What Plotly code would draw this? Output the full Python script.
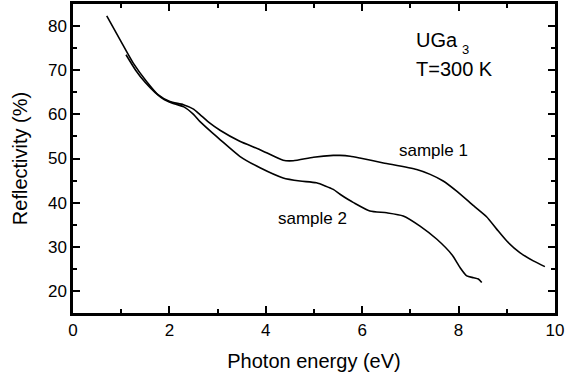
import plotly.graph_objects as go

s1_x = [0.70, 0.98, 1.25, 1.53, 1.77, 2.01, 2.29, 2.50, 2.63, 2.84, 3.05, 3.46, 3.88, 4.36, 4.57, 4.99, 5.40, 5.54, 5.75, 5.95, 6.44, 7.13, 7.41, 7.68, 7.96, 8.31, 8.58, 8.79, 9.00, 9.27, 9.55, 9.79]
s1_y = [82.3, 76.8, 71.6, 67.4, 64.4, 62.9, 62.2, 61.2, 60.0, 58.0, 56.4, 53.9, 52.0, 49.6, 49.5, 50.3, 50.7, 50.7, 50.5, 50.1, 49.0, 47.5, 46.4, 44.9, 42.6, 39.3, 36.8, 34.0, 31.3, 28.7, 26.8, 25.5]

s2_x = [1.10, 1.30, 1.50, 1.70, 1.90, 2.05, 2.30, 2.50, 2.63, 2.84, 3.05, 3.46, 3.88, 4.36, 4.71, 5.05, 5.40, 5.54, 5.71, 5.82, 6.16, 6.51, 6.85, 7.20, 7.55, 7.87, 8.03, 8.17, 8.31, 8.41, 8.48]
s2_y = [73.5, 70.0, 67.2, 65.0, 63.3, 62.6, 61.7, 60.0, 58.4, 56.3, 54.3, 50.5, 47.9, 45.6, 44.9, 44.5, 43.0, 41.9, 40.7, 40.0, 38.1, 37.7, 37.0, 34.7, 31.7, 28.1, 25.3, 23.4, 23.0, 22.7, 21.9]

x_range = [0, 10]
y_range = [15, 85]

fig = go.Figure()
fig.add_trace(go.Scatter(x=s1_x, y=s1_y, mode="lines", line=dict(color="black", width=1.6, shape="spline", smoothing=0.6)))
fig.add_trace(go.Scatter(x=s2_x, y=s2_y, mode="lines", line=dict(color="black", width=1.6, shape="spline", smoothing=0.6)))

fig.update_xaxes(range=x_range, showline=True, linecolor="black", linewidth=2.5, mirror="allticks",
                 ticks="inside", ticklen=7, tickwidth=2, tickcolor="black",
                 gridcolor="white", zerolinecolor="black", automargin=False,
                 minor=dict(ticks="inside", ticklen=4, tickcolor="black", dtick=1),
                 title_text="Photon energy (eV)")
fig.update_yaxes(range=y_range, showline=True, linecolor="black", linewidth=2.5, mirror="allticks",
                 ticks="inside", ticklen=7, tickwidth=2, tickcolor="black",
                 gridcolor="white", zerolinecolor="black", automargin=False,
                 minor=dict(ticks="inside", ticklen=4, tickcolor="black", dtick=5),
                 title_text="Reflectivity (%)")

big = dict(size=20)
fig.add_annotation(x=7.08, y=76.8, text="UGa", showarrow=False, xanchor="left", yanchor="middle", font=big)
fig.add_annotation(x=8.02, y=74.6, text="3", showarrow=False, xanchor="left", yanchor="middle", font=dict(size=13))
fig.add_annotation(x=7.08, y=70.3, text="T=300 K", showarrow=False, xanchor="left", yanchor="middle", font=big)
fig.add_annotation(x=6.72, y=51.8, text="sample 1", showarrow=False, xanchor="left", yanchor="middle")
fig.add_annotation(x=4.21, y=36.5, text="sample 2", showarrow=False, xanchor="left", yanchor="middle")

fig.update_layout(width=577, height=375, showlegend=False,
                  font=dict(family="Liberation Sans", size=17, color="black"),
                  margin=dict(l=73, r=22, t=4, b=62),
                  plot_bgcolor="white", paper_bgcolor="white")
fig.write_html("out.html")
